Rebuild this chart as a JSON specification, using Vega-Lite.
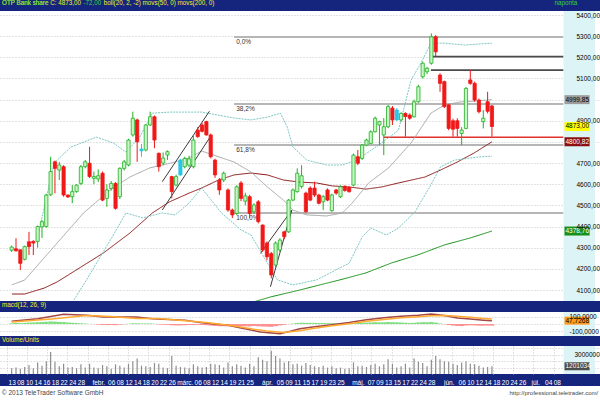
{
"$schema":"https://vega.github.io/schema/vega-lite/v6.json",
"background":"#15247c",
"padding":0,
"spacing":0,
"config":{
 "view":{"stroke":null},
 "font":"Liberation Sans",
 "axis":{"minExtent":0,"gridColor":"#c6c6c6","gridDash":[1,2],"gridWidth":1,"ticks":false,"tickSize":0,"domain":false,"labelOverlap":false,"labelFlush":false},
 "title":{"anchor":"start","fontWeight":"normal","font":"Liberation Sans","fontSize":6.3,"color":"#f2f21e","dx":2,"offset":2.7}
},
"resolve":{"scale":{"x":"independent","y":"independent","color":"independent","fill":"independent","stroke":"independent","strokeWidth":"independent","strokeDash":"independent"}},
"datasets":{
 "cd":[
{"i":2,"o":4288,"h":4310,"l":4280,"c":4303,"t":"u"},
{"i":3,"o":4295,"h":4345,"l":4282,"c":4285,"t":"d"},
{"i":4,"o":4290,"h":4292,"l":4195,"c":4226,"t":"d"},
{"i":5,"o":4245,"h":4310,"l":4240,"c":4305,"t":"u"},
{"i":6,"o":4328,"h":4375,"l":4265,"c":4305,"t":"d"},
{"i":7,"o":4330,"h":4335,"l":4265,"c":4322,"t":"d"},
{"i":8,"o":4330,"h":4405,"l":4300,"c":4400,"t":"u"},
{"i":9,"o":4399,"h":4430,"l":4346,"c":4423,"t":"u"},
{"i":10,"o":4400,"h":4555,"l":4395,"c":4549,"t":"u"},
{"i":11,"o":4550,"h":4730,"l":4545,"c":4660,"t":"u"},
{"i":12,"o":4706,"h":4712,"l":4557,"c":4675,"t":"d"},
{"i":13,"o":4667,"h":4706,"l":4620,"c":4691,"t":"u"},
{"i":14,"o":4683,"h":4690,"l":4541,"c":4549,"t":"d"},
{"i":15,"o":4549,"h":4552,"l":4535,"c":4540,"t":"d"},
{"i":16,"o":4541,"h":4596,"l":4511,"c":4565,"t":"u"},
{"i":17,"o":4565,"h":4600,"l":4560,"c":4596,"t":"u"},
{"i":18,"o":4604,"h":4691,"l":4596,"c":4683,"t":"u"},
{"i":19,"o":4683,"h":4715,"l":4675,"c":4706,"t":"u"},
{"i":20,"o":4699,"h":4777,"l":4630,"c":4636,"t":"d"},
{"i":21,"o":4628,"h":4660,"l":4600,"c":4636,"t":"u"},
{"i":22,"o":4625,"h":4670,"l":4610,"c":4640,"t":"u"},
{"i":23,"o":4652,"h":4660,"l":4520,"c":4525,"t":"d"},
{"i":24,"o":4533,"h":4600,"l":4493,"c":4573,"t":"u"},
{"i":25,"o":4580,"h":4615,"l":4570,"c":4604,"t":"u"},
{"i":26,"o":4604,"h":4610,"l":4480,"c":4486,"t":"d"},
{"i":27,"o":4541,"h":4680,"l":4530,"c":4675,"t":"u"},
{"i":28,"o":4675,"h":4715,"l":4665,"c":4706,"t":"u"},
{"i":29,"o":4691,"h":4815,"l":4685,"c":4809,"t":"u"},
{"i":30,"o":4833,"h":4943,"l":4825,"c":4912,"t":"u"},
{"i":31,"o":4904,"h":4910,"l":4706,"c":4801,"t":"d"},
{"i":32,"o":4758,"h":4790,"l":4730,"c":4766,"t":"f"},
{"i":33,"o":4762,"h":4885,"l":4755,"c":4880,"t":"u"},
{"i":34,"o":4880,"h":4943,"l":4875,"c":4919,"t":"u"},
{"i":35,"o":4919,"h":4925,"l":4770,"c":4809,"t":"d"},
{"i":36,"o":4746,"h":4750,"l":4660,"c":4683,"t":"d"},
{"i":37,"o":4700,"h":4750,"l":4690,"c":4724,"t":"u"},
{"i":38,"o":4738,"h":4760,"l":4715,"c":4754,"t":"u"},
{"i":39,"o":4636,"h":4640,"l":4533,"c":4565,"t":"d"},
{"i":40,"o":4596,"h":4645,"l":4590,"c":4636,"t":"u"},
{"i":41,"o":4644,"h":4720,"l":4640,"c":4714,"t":"f"},
{"i":42,"o":4683,"h":4730,"l":4675,"c":4722,"t":"u"},
{"i":43,"o":4690,"h":4735,"l":4680,"c":4720,"t":"u"},
{"i":44,"o":4683,"h":4830,"l":4675,"c":4809,"t":"u"},
{"i":45,"o":4856,"h":4870,"l":4820,"c":4825,"t":"d"},
{"i":46,"o":4880,"h":4890,"l":4845,"c":4850,"t":"d"},
{"i":47,"o":4896,"h":4900,"l":4830,"c":4833,"t":"d"},
{"i":48,"o":4833,"h":4840,"l":4722,"c":4730,"t":"d"},
{"i":49,"o":4714,"h":4720,"l":4630,"c":4644,"t":"d"},
{"i":50,"o":4620,"h":4630,"l":4550,"c":4573,"t":"d"},
{"i":51,"o":4620,"h":4660,"l":4610,"c":4652,"t":"u"},
{"i":52,"o":4573,"h":4580,"l":4470,"c":4478,"t":"d"},
{"i":53,"o":4478,"h":4485,"l":4440,"c":4455,"t":"d"},
{"i":54,"o":4462,"h":4595,"l":4455,"c":4588,"t":"u"},
{"i":55,"o":4606,"h":4615,"l":4520,"c":4533,"t":"d"},
{"i":56,"o":4520,"h":4560,"l":4500,"c":4545,"t":"u"},
{"i":57,"o":4541,"h":4550,"l":4440,"c":4462,"t":"d"},
{"i":58,"o":4470,"h":4510,"l":4460,"c":4502,"t":"u"},
{"i":59,"o":4517,"h":4525,"l":4415,"c":4423,"t":"d"},
{"i":60,"o":4407,"h":4410,"l":4280,"c":4289,"t":"d"},
{"i":61,"o":4322,"h":4330,"l":4240,"c":4257,"t":"d"},
{"i":62,"o":4272,"h":4280,"l":4155,"c":4171,"t":"d"},
{"i":63,"o":4218,"h":4330,"l":4210,"c":4322,"t":"u"},
{"i":64,"o":4289,"h":4345,"l":4280,"c":4336,"t":"u"},
{"i":65,"o":4375,"h":4380,"l":4340,"c":4352,"t":"d"},
{"i":66,"o":4375,"h":4530,"l":4370,"c":4525,"t":"u"},
{"i":67,"o":4525,"h":4580,"l":4520,"c":4573,"t":"u"},
{"i":68,"o":4565,"h":4675,"l":4560,"c":4652,"t":"u"},
{"i":69,"o":4590,"h":4690,"l":4580,"c":4640,"t":"u"},
{"i":70,"o":4558,"h":4565,"l":4465,"c":4470,"t":"d"},
{"i":71,"o":4582,"h":4590,"l":4520,"c":4525,"t":"d"},
{"i":72,"o":4582,"h":4612,"l":4540,"c":4549,"t":"d"},
{"i":73,"o":4549,"h":4555,"l":4505,"c":4510,"t":"d"},
{"i":74,"o":4517,"h":4549,"l":4478,"c":4541,"t":"u"},
{"i":75,"o":4573,"h":4580,"l":4520,"c":4525,"t":"d"},
{"i":76,"o":4475,"h":4555,"l":4470,"c":4549,"t":"u"},
{"i":77,"o":4573,"h":4578,"l":4550,"c":4558,"t":"d"},
{"i":78,"o":4541,"h":4595,"l":4535,"c":4588,"t":"u"},
{"i":79,"o":4590,"h":4595,"l":4565,"c":4570,"t":"d"},
{"i":80,"o":4585,"h":4590,"l":4560,"c":4565,"t":"d"},
{"i":81,"o":4596,"h":4745,"l":4590,"c":4738,"t":"u"},
{"i":82,"o":4730,"h":4762,"l":4690,"c":4699,"t":"d"},
{"i":83,"o":4722,"h":4790,"l":4715,"c":4785,"t":"u"},
{"i":84,"o":4785,"h":4815,"l":4780,"c":4809,"t":"u"},
{"i":85,"o":4793,"h":4855,"l":4790,"c":4848,"t":"u"},
{"i":86,"o":4848,"h":4920,"l":4845,"c":4912,"t":"u"},
{"i":87,"o":4880,"h":4900,"l":4785,"c":4896,"t":"u"},
{"i":88,"o":4833,"h":4913,"l":4738,"c":4872,"t":"u"},
{"i":89,"o":4872,"h":4975,"l":4865,"c":4967,"t":"u"},
{"i":90,"o":4960,"h":4970,"l":4880,"c":4904,"t":"d"},
{"i":91,"o":4904,"h":4960,"l":4900,"c":4951,"t":"f"},
{"i":92,"o":4904,"h":4940,"l":4895,"c":4935,"t":"u"},
{"i":93,"o":4935,"h":4940,"l":4825,"c":4920,"t":"d"},
{"i":94,"o":4927,"h":4935,"l":4905,"c":4912,"t":"d"},
{"i":95,"o":4919,"h":5000,"l":4915,"c":4990,"t":"u"},
{"i":96,"o":4990,"h":5070,"l":4985,"c":5061,"t":"u"},
{"i":97,"o":5108,"h":5180,"l":5100,"c":5172,"t":"u"},
{"i":98,"o":5132,"h":5155,"l":5120,"c":5148,"t":"u"},
{"i":99,"o":5172,"h":5313,"l":5165,"c":5297,"t":"u"},
{"i":100,"o":5297,"h":5305,"l":5203,"c":5226,"t":"d"},
{"i":101,"o":5116,"h":5125,"l":5037,"c":5077,"t":"d"},
{"i":102,"o":5085,"h":5090,"l":4960,"c":4967,"t":"d"},
{"i":103,"o":4975,"h":4980,"l":4855,"c":4864,"t":"d"},
{"i":104,"o":4900,"h":4910,"l":4825,"c":4860,"t":"d"},
{"i":105,"o":4900,"h":4912,"l":4825,"c":4864,"t":"d"},
{"i":106,"o":4840,"h":4870,"l":4785,"c":4856,"t":"u"},
{"i":107,"o":4864,"h":5060,"l":4860,"c":5053,"t":"u"},
{"i":108,"o":5093,"h":5140,"l":5070,"c":5077,"t":"d"},
{"i":109,"o":5077,"h":5085,"l":4990,"c":4998,"t":"d"},
{"i":110,"o":4998,"h":5005,"l":4935,"c":4943,"t":"d"},
{"i":111,"o":4896,"h":4951,"l":4864,"c":4912,"t":"u"},
{"i":112,"o":4990,"h":5037,"l":4935,"c":4945,"t":"d"},
{"i":113,"o":4970,"h":4975,"l":4825,"c":4873,"t":"d"}
 ],
 "ln":[
{"s":"ma50","i":2.05,"p":4081},{"s":"ma50","i":5,"p":4081},{"s":"ma50","i":9.5,"p":4109},{"s":"ma50","i":12.5,"p":4138},{"s":"ma50","i":23.2,"p":4275},{"s":"ma50","i":29.3,"p":4369},{"s":"ma50","i":34.5,"p":4464},{"s":"ma50","i":38.4,"p":4516},{"s":"ma50","i":43,"p":4558},{"s":"ma50","i":45.9,"p":4582},{"s":"ma50","i":49.8,"p":4620},{"s":"ma50","i":53.4,"p":4644},{"s":"ma50","i":57.3,"p":4653},{"s":"ma50","i":61.1,"p":4644},{"s":"ma50","i":64.8,"p":4620},{"s":"ma50","i":68.6,"p":4610},{"s":"ma50","i":72.5,"p":4606},{"s":"ma50","i":76.1,"p":4592},{"s":"ma50","i":80,"p":4587},{"s":"ma50","i":83.9,"p":4577},{"s":"ma50","i":87.5,"p":4587},{"s":"ma50","i":91.4,"p":4606},{"s":"ma50","i":97.5,"p":4634},{"s":"ma50","i":101.1,"p":4667},{"s":"ma50","i":105,"p":4705},{"s":"ma50","i":108.9,"p":4748},{"s":"ma50","i":113,"p":4800.82},
{"s":"ma200","i":57.3,"p":4040},{"s":"ma200","i":61.8,"p":4067},{"s":"ma200","i":68.6,"p":4100},{"s":"ma200","i":73.2,"p":4124},{"s":"ma200","i":77.7,"p":4147},{"s":"ma200","i":83.9,"p":4181},{"s":"ma200","i":89.8,"p":4228},{"s":"ma200","i":95.9,"p":4266},{"s":"ma200","i":102,"p":4313},{"s":"ma200","i":108,"p":4346},{"s":"ma200","i":113,"p":4378.76},
{"s":"mid","i":2,"p":4124},{"s":"mid","i":5,"p":4147},{"s":"mid","i":18.6,"p":4464},{"s":"mid","i":24.8,"p":4573},{"s":"mid","i":29.3,"p":4634},{"s":"mid","i":33.9,"p":4677},{"s":"mid","i":39.8,"p":4705},{"s":"mid","i":43,"p":4724},{"s":"mid","i":45.9,"p":4757},{"s":"mid","i":53.4,"p":4705},{"s":"mid","i":57.3,"p":4658},{"s":"mid","i":61.1,"p":4587},{"s":"mid","i":64.8,"p":4525},{"s":"mid","i":67,"p":4478},{"s":"mid","i":70.2,"p":4455},{"s":"mid","i":74.8,"p":4450},{"s":"mid","i":78.4,"p":4464},{"s":"mid","i":80.7,"p":4511},{"s":"mid","i":84.5,"p":4606},{"s":"mid","i":89.1,"p":4677},{"s":"mid","i":94.3,"p":4795},{"s":"mid","i":98.9,"p":4936},{"s":"mid","i":102,"p":4974},{"s":"mid","i":105.7,"p":4989},{"s":"mid","i":108.9,"p":4993},{"s":"mid","i":113,"p":4999.85},
{"s":"up","i":8,"p":4351},{"s":"up","i":11.8,"p":4700},{"s":"up","i":15.7,"p":4776},{"s":"up","i":21.6,"p":4823},{"s":"up","i":25.5,"p":4795},{"s":"up","i":28.4,"p":4752},{"s":"up","i":31.6,"p":4823},{"s":"up","i":34.5,"p":4936},{"s":"up","i":38.4,"p":4941},{"s":"up","i":45.9,"p":4941},{"s":"up","i":53.4,"p":4913},{"s":"up","i":57.3,"p":4904},{"s":"up","i":61.1,"p":4917},{"s":"up","i":64.1,"p":4936},{"s":"up","i":65.7,"p":4870},{"s":"up","i":67,"p":4776},{"s":"up","i":70.2,"p":4714},{"s":"up","i":74.8,"p":4691},{"s":"up","i":78.4,"p":4691},{"s":"up","i":81.6,"p":4714},{"s":"up","i":85.2,"p":4762},{"s":"up","i":88.4,"p":4809},{"s":"up","i":91.4,"p":4856},{"s":"up","i":94.3,"p":5092},{"s":"up","i":96.6,"p":5173},{"s":"up","i":98.9,"p":5267},{"s":"up","i":102,"p":5267},{"s":"up","i":106.6,"p":5258},{"s":"up","i":113,"p":5267},
{"s":"lo","i":16.4,"p":4053},{"s":"lo","i":19.3,"p":4148},{"s":"lo","i":25.5,"p":4360},{"s":"lo","i":28.4,"p":4464},{"s":"lo","i":32.3,"p":4441},{"s":"lo","i":36.8,"p":4464},{"s":"lo","i":39.8,"p":4455},{"s":"lo","i":43,"p":4511},{"s":"lo","i":45.9,"p":4582},{"s":"lo","i":50.5,"p":4464},{"s":"lo","i":55,"p":4384},{"s":"lo","i":57.3,"p":4360},{"s":"lo","i":63.4,"p":4148},{"s":"lo","i":67,"p":4124},{"s":"lo","i":72.5,"p":4148},{"s":"lo","i":80,"p":4227},{"s":"lo","i":83,"p":4350},{"s":"lo","i":85,"p":4393},{"s":"lo","i":88.6,"p":4360},{"s":"lo","i":91.4,"p":4393},{"s":"lo","i":95.2,"p":4469},{"s":"lo","i":98.9,"p":4597},{"s":"lo","i":101.1,"p":4682},{"s":"lo","i":104.3,"p":4714},{"s":"lo","i":109.5,"p":4728},{"s":"lo","i":113,"p":4733}
 ],
 "hl":[
{"x1":53.4,"x2":129.55,"p":5296,"k":"fib"},{"x1":53.4,"x2":129.55,"p":4979,"k":"fib"},{"x1":53.4,"x2":129.55,"p":4785,"k":"fib"},{"x1":53.4,"x2":129.55,"p":4464,"k":"fib"},
{"x1":98.9,"x2":129.55,"p":5203,"k":"res"},{"x1":98.9,"x2":129.55,"p":5140,"k":"res"},{"x1":88,"x2":129.55,"p":4822,"k":"red"}
 ],
 "fl":[{"x":53.9,"p":5296,"t":"0,0%"},{"x":53.9,"p":4979,"t":"38,2%"},{"x":53.9,"p":4785,"t":"61,8%"},{"x":53.9,"p":4464,"t":"100,0%"}],
 "tl":[{"i1":36.8,"p1":4612,"i2":47.7,"p2":4945},{"i1":36.8,"p1":4478,"i2":47.7,"p2":4818},{"i1":59.5,"p1":4273,"i2":66.75,"p2":4478},{"i1":61.8,"p1":4115,"i2":66.75,"p2":4478}],
 "tg":[{"v":4999.85,"label":"4999,85","k":"boll"},{"v":4873,"label":"4873,00","k":"close"},{"v":4800.82,"label":"4800,82","k":"ma50"},{"v":4378.76,"label":"4378,76","k":"ma200"}],
 "md":[
{"s":"macd","i":2,"v":38},{"s":"macd","i":8,"v":76},{"s":"macd","i":14,"v":138},{"s":"macd","i":19.4,"v":124},{"s":"macd","i":23.2,"v":100},{"s":"macd","i":30.8,"v":100},{"s":"macd","i":34.5,"v":76},{"s":"macd","i":42.1,"v":53},{"s":"macd","i":45.9,"v":19},{"s":"macd","i":52,"v":-19},{"s":"macd","i":55,"v":-57},{"s":"macd","i":59.5,"v":-114},{"s":"macd","i":64,"v":-139},{"s":"macd","i":66.4,"v":-104},{"s":"macd","i":68.6,"v":-67},{"s":"macd","i":72,"v":-40},{"s":"macd","i":76,"v":-10},{"s":"macd","i":80,"v":20},{"s":"macd","i":84,"v":60},{"s":"macd","i":88,"v":90},{"s":"macd","i":92,"v":110},{"s":"macd","i":96,"v":125},{"s":"macd","i":99,"v":143},{"s":"macd","i":102,"v":120},{"s":"macd","i":105,"v":85},{"s":"macd","i":108,"v":70},{"s":"macd","i":111,"v":55},{"s":"macd","i":113,"v":47.7268},
{"s":"sig","i":2,"v":29},{"s":"sig","i":11.8,"v":76},{"s":"sig","i":19.4,"v":120},{"s":"sig","i":25,"v":108},{"s":"sig","i":30.8,"v":80},{"s":"sig","i":36,"v":78},{"s":"sig","i":42.1,"v":45},{"s":"sig","i":47,"v":20},{"s":"sig","i":53.5,"v":-30},{"s":"sig","i":58,"v":-75},{"s":"sig","i":61,"v":-100},{"s":"sig","i":64.8,"v":-120},{"s":"sig","i":68.6,"v":-95},{"s":"sig","i":72,"v":-62},{"s":"sig","i":76,"v":-25},{"s":"sig","i":80,"v":5},{"s":"sig","i":84,"v":38},{"s":"sig","i":88,"v":65},{"s":"sig","i":92,"v":88},{"s":"sig","i":96,"v":105},{"s":"sig","i":99,"v":118},{"s":"sig","i":102,"v":122},{"s":"sig","i":105,"v":110},{"s":"sig","i":108,"v":95},{"s":"sig","i":111,"v":80},{"s":"sig","i":113,"v":71}
 ],
 "mh":[
{"i":2,"h":10},{"i":3,"h":14},{"i":4,"h":12},{"i":5,"h":16},{"i":6,"h":20},{"i":7,"h":22},{"i":8,"h":26},{"i":9,"h":28},{"i":10,"h":32},{"i":11,"h":36},{"i":12,"h":34},{"i":13,"h":30},{"i":14,"h":28},{"i":15,"h":22},{"i":16,"h":18},{"i":17,"h":14},{"i":18,"h":10},{"i":19,"h":6},{"i":20,"h":2},{"i":21,"h":-2},{"i":22,"h":-8},{"i":23,"h":-14},{"i":24,"h":-16},{"i":25,"h":-14},{"i":26,"h":-16},{"i":27,"h":-10},{"i":28,"h":-4},{"i":29,"h":4},{"i":30,"h":10},{"i":31,"h":10},{"i":32,"h":8},{"i":33,"h":8},{"i":34,"h":8},{"i":35,"h":4},{"i":36,"h":-6},{"i":37,"h":-10},{"i":38,"h":-12},{"i":39,"h":-18},{"i":40,"h":-20},{"i":41,"h":-20},{"i":42,"h":-18},{"i":43,"h":-14},{"i":44,"h":-12},{"i":45,"h":-12},{"i":46,"h":-14},{"i":47,"h":-18},{"i":48,"h":-22},{"i":49,"h":-28},{"i":50,"h":-32},{"i":51,"h":-30},{"i":52,"h":-34},{"i":53,"h":-36},{"i":54,"h":-32},{"i":55,"h":-34},{"i":56,"h":-32},{"i":57,"h":-34},{"i":58,"h":-30},{"i":59,"h":-32},{"i":60,"h":-36},{"i":61,"h":-38},{"i":62,"h":-40},{"i":63,"h":-30},{"i":64,"h":-20},{"i":65,"h":-12},{"i":66,"h":-2},{"i":67,"h":6},{"i":68,"h":14},{"i":69,"h":18},{"i":70,"h":16},{"i":71,"h":16},{"i":72,"h":16},{"i":73,"h":14},{"i":74,"h":14},{"i":75,"h":12},{"i":76,"h":12},{"i":77,"h":10},{"i":78,"h":10},{"i":79,"h":8},{"i":80,"h":8},{"i":81,"h":14},{"i":82,"h":14},{"i":83,"h":18},{"i":84,"h":20},{"i":85,"h":22},{"i":86,"h":26},{"i":87,"h":24},{"i":88,"h":24},{"i":89,"h":28},{"i":90,"h":26},{"i":91,"h":24},{"i":92,"h":22},{"i":93,"h":18},{"i":94,"h":14},{"i":95,"h":18},{"i":96,"h":22},{"i":97,"h":26},{"i":98,"h":24},{"i":99,"h":28},{"i":100,"h":20},{"i":101,"h":8},{"i":102,"h":-4},{"i":103,"h":-14},{"i":104,"h":-22},{"i":105,"h":-28},{"i":106,"h":-30},{"i":107,"h":-22},{"i":108,"h":-18},{"i":109,"h":-20},{"i":110,"h":-24},{"i":111,"h":-24},{"i":112,"h":-22},{"i":113,"h":-24}
 ],
 "vo":[
{"i":2,"v":900000},{"i":3,"v":1000000},{"i":4,"v":800000},{"i":5,"v":1100000},{"i":6,"v":1400000},{"i":7,"v":900000},{"i":8,"v":1800000},{"i":9,"v":1300000},{"i":10,"v":2000000},{"i":11,"v":3400000},{"i":12,"v":1900000},{"i":13,"v":1200000},{"i":14,"v":1600000},{"i":15,"v":1000000},{"i":16,"v":1100000},{"i":17,"v":900000},{"i":18,"v":1500000},{"i":19,"v":1000000},{"i":20,"v":1600000},{"i":21,"v":1000000},{"i":22,"v":900000},{"i":23,"v":1400000},{"i":24,"v":1200000},{"i":25,"v":800000},{"i":26,"v":1500000},{"i":27,"v":1300000},{"i":28,"v":1000000},{"i":29,"v":1600000},{"i":30,"v":2000000},{"i":31,"v":2400000},{"i":32,"v":1300000},{"i":33,"v":1200000},{"i":34,"v":1100000},{"i":35,"v":1700000},{"i":36,"v":1600000},{"i":37,"v":1000000},{"i":38,"v":900000},{"i":39,"v":2800000},{"i":40,"v":1300000},{"i":41,"v":1100000},{"i":42,"v":1000000},{"i":43,"v":900000},{"i":44,"v":1500000},{"i":45,"v":1200000},{"i":46,"v":1000000},{"i":47,"v":1100000},{"i":48,"v":1600000},{"i":49,"v":1500000},{"i":50,"v":1400000},{"i":51,"v":1000000},{"i":52,"v":1800000},{"i":53,"v":1200000},{"i":54,"v":1500000},{"i":55,"v":1300000},{"i":56,"v":1000000},{"i":57,"v":1600000},{"i":58,"v":1200000},{"i":59,"v":2600000},{"i":60,"v":2200000},{"i":61,"v":2000000},{"i":62,"v":3600000},{"i":63,"v":2800000},{"i":64,"v":2400000},{"i":65,"v":1800000},{"i":66,"v":2000000},{"i":67,"v":1500000},{"i":68,"v":1600000},{"i":69,"v":1300000},{"i":70,"v":1700000},{"i":71,"v":1400000},{"i":72,"v":1200000},{"i":73,"v":1100000},{"i":74,"v":1300000},{"i":75,"v":1000000},{"i":76,"v":1200000},{"i":77,"v":900000},{"i":78,"v":1000000},{"i":79,"v":800000},{"i":80,"v":900000},{"i":81,"v":1800000},{"i":82,"v":1200000},{"i":83,"v":1300000},{"i":84,"v":1100000},{"i":85,"v":1400000},{"i":86,"v":1600000},{"i":87,"v":1200000},{"i":88,"v":1500000},{"i":89,"v":2300000},{"i":90,"v":1600000},{"i":91,"v":1000000},{"i":92,"v":1200000},{"i":93,"v":1600000},{"i":94,"v":1000000},{"i":95,"v":2400000},{"i":96,"v":1900000},{"i":97,"v":1700000},{"i":98,"v":1200000},{"i":99,"v":2200000},{"i":100,"v":2800000},{"i":101,"v":2300000},{"i":102,"v":2000000},{"i":103,"v":1900000},{"i":104,"v":1600000},{"i":105,"v":1400000},{"i":106,"v":1800000},{"i":107,"v":2000000},{"i":108,"v":1600000},{"i":109,"v":1500000},{"i":110,"v":1300000},{"i":111,"v":1000000},{"i":112,"v":1100000},{"i":113,"v":1201034}
 ]
},
"vconcat":[
{
 "width":600,"height":290,
 "view":{"fill":"#ffffff"},
 "title":{"text":"OTP Bank share C: 4873,00 \u00a0\u00a0\u00a0\u00a0\u00a0\u00a0\u00a0\u00a0\u00a0\u00a0\u00a0\u00a0boll(20, 2, -2) movs(50, 0) movs(200, 0)","subtitle":"OTP Bank share\u00a0\u00a0\u00a0\u00a0\u00a0\u00a0\u00a0\u00a0\u00a0\u00a0\u00a0\u00a0\u00a0\u00a0\u00a0\u00a0\u00a0\u00a0\u00a0\u00a0-72,00\u00a0\u00a0\u00a0\u00a0\u00a0\u00a0\u00a0\u00a0\u00a0\u00a0\u00a0\u00a0\u00a0\u00a0\u00a0\u00a0\u00a0\u00a0\u00a0\u00a0\u00a0\u00a0\u00a0\u00a0\u00a0\u00a0\u00a0\u00a0\u00a0\u00a0\u00a0\u00a0\u00a0\u00a0\u00a0\u00a0\u00a0\u00a0\u00a0\u00a0\u00a0\u00a0\u00a0\u00a0\u00a0\u00a0\u00a0\u00a0\u00a0\u00a0\u00a0\u00a0\u00a0\u00a0\u00a0\u00a0\u00a0\u00a0\u00a0\u00a0\u00a0\u00a0\u00a0\u00a0\u00a0\u00a0\u00a0\u00a0\u00a0\u00a0\u00a0\u00a0\u00a0\u00a0\u00a0\u00a0\u00a0\u00a0\u00a0\u00a0\u00a0\u00a0\u00a0\u00a0\u00a0\u00a0\u00a0\u00a0\u00a0\u00a0\u00a0\u00a0\u00a0\u00a0\u00a0\u00a0\u00a0\u00a0\u00a0\u00a0\u00a0\u00a0\u00a0\u00a0\u00a0\u00a0\u00a0\u00a0\u00a0\u00a0\u00a0\u00a0\u00a0\u00a0\u00a0\u00a0\u00a0\u00a0\u00a0\u00a0\u00a0\u00a0\u00a0\u00a0\u00a0\u00a0\u00a0\u00a0\u00a0\u00a0\u00a0\u00a0\u00a0\u00a0\u00a0\u00a0\u00a0\u00a0\u00a0\u00a0\u00a0\u00a0\u00a0\u00a0\u00a0\u00a0\u00a0\u00a0\u00a0\u00a0\u00a0\u00a0\u00a0\u00a0\u00a0\u00a0\u00a0\u00a0\u00a0\u00a0\u00a0\u00a0\u00a0\u00a0\u00a0\u00a0\u00a0\u00a0\u00a0\u00a0\u00a0\u00a0\u00a0\u00a0\u00a0\u00a0\u00a0\u00a0\u00a0\u00a0\u00a0\u00a0\u00a0\u00a0\u00a0\u00a0\u00a0\u00a0\u00a0\u00a0\u00a0\u00a0\u00a0\u00a0\u00a0\u00a0\u00a0\u00a0\u00a0\u00a0\u00a0\u00a0\u00a0\u00a0\u00a0\u00a0\u00a0\u00a0\u00a0\u00a0\u00a0\u00a0\u00a0\u00a0\u00a0\u00a0\u00a0\u00a0\u00a0\u00a0\u00a0\u00a0\u00a0\u00a0\u00a0\u00a0\u00a0\u00a0\u00a0\u00a0\u00a0\u00a0\u00a0\u00a0\u00a0\u00a0\u00a0\u00a0\u00a0\u00a0\u00a0\u00a0\u00a0\u00a0\u00a0\u00a0\u00a0\u00a0\u00a0\u00a0\u00a0\u00a0\u00a0\u00a0\u00a0\u00a0\u00a0\u00a0\u00a0naponta","color":"#f2f21e","subtitleColor":"#3cd23c","subtitleFont":"Liberation Sans","subtitleFontSize":6.3,"subtitlePadding":-6.3,"offset":4.7},
 "resolve":{"scale":{"color":"independent","fill":"independent","stroke":"independent","strokeWidth":"independent","strokeDash":"independent"},"axis":{"y":"independent"}},
 "layer":[
  {"data":{"name":"hl"},"mark":{"type":"rule"},
   "encoding":{
    "x":{"field":"x1","type":"quantitative","scale":{"domain":[0.4545,136.82],"nice":false,"zero":false},"axis":{"orient":"bottom","grid":true,"labels":false,"title":null,"values":[0.84,5.52,10.2,14.89,19.57,24.25,28.93,33.61,38.3,42.98,47.66,52.34,57.02,61.71,66.39,71.07,75.75,80.43,85.12,89.8,94.48,99.16,103.84,108.53,113.21,117.89,122.57,127.25]}},
    "x2":{"field":"x2"},
    "y":{"field":"p","type":"quantitative","scale":{"domain":[4048,5419],"nice":false,"zero":false},"axis":{"orient":"left","grid":true,"labels":false,"title":null,"values":[4100,4200,4300,4400,4500,4600,4700,4800,4900,5000,5100,5200,5300,5400]}},
    "color":{"field":"k","type":"nominal","scale":{"domain":["fib","res","red"],"range":["#b6b6b6","#4a4a4a","#e03030"]},"legend":null},
    "strokeWidth":{"field":"k","type":"ordinal","scale":{"domain":["fib","res","red"],"range":[2,1.5,1]},"legend":null}
   }},
  {"data":{"name":"fl"},"mark":{"type":"text","align":"left","baseline":"top","dy":2,"fontSize":6.5,"color":"#333333"},
   "encoding":{"x":{"field":"x","type":"quantitative","axis":null},"y":{"field":"p","type":"quantitative","axis":null},"text":{"field":"t"}}},
  {"data":{"name":"ln"},"mark":{"type":"line","clip":true},
   "encoding":{
    "x":{"field":"i","type":"quantitative","axis":null},
    "y":{"field":"p","type":"quantitative","axis":null},
    "color":{"field":"s","type":"nominal","scale":{"domain":["up","lo","mid","ma50","ma200"],"range":["#7cc6c6","#7cc6c6","#a6a6a6","#8a1414","#139013"]},"legend":null},
    "strokeDash":{"field":"s","type":"nominal","scale":{"domain":["up","lo","mid","ma50","ma200"],"range":[[2,1],[2,1],[1,0],[1,0],[1,0]]},"legend":null},
    "strokeWidth":{"field":"s","type":"ordinal","scale":{"domain":["up","lo","mid","ma50","ma200"],"range":[1,1,1,2,2]},"legend":null}
   }},
  {"data":{"name":"tl"},"mark":{"type":"rule","color":"#3c3c3c","strokeWidth":1},
   "encoding":{"x":{"field":"i1","type":"quantitative","axis":null},"x2":{"field":"i2"},"y":{"field":"p1","type":"quantitative","axis":null},"y2":{"field":"p2"}}},
  {"data":{"name":"cd"},"mark":{"type":"rule","strokeWidth":1},
   "encoding":{"x":{"field":"i","type":"quantitative","axis":null},"y":{"field":"l","type":"quantitative","axis":null},"y2":{"field":"h"},
    "stroke":{"field":"t","type":"nominal","scale":{"domain":["u","d","f"],"range":["#22b022","#f01818","#26c6e6"]},"legend":null}}},
  {"data":{"name":"cd"},"mark":{"type":"bar","width":3.2,"strokeWidth":0.8},
   "encoding":{"x":{"field":"i","type":"quantitative","axis":null},"y":{"field":"o","type":"quantitative","axis":null},"y2":{"field":"c"},
    "fill":{"field":"t","type":"nominal","scale":{"domain":["u","d","f"],"range":["#c8f6c8","#f01818","#26c6e6"]},"legend":null},
    "stroke":{"field":"t","type":"nominal","scale":{"domain":["u","d","f"],"range":["#22b022","#f01818","#26c6e6"]},"legend":null}}},
  {"data":{"values":[{}]},"mark":{"type":"rect","fill":"#ddf4f7"},
   "encoding":{"x":{"datum":129.55,"type":"quantitative","axis":null},"x2":{"datum":136.82}}},
  {"data":{"name":"tg"},"mark":{"type":"rect","yOffset":-4.5,"y2Offset":4.5,"zindex":2},
   "encoding":{"x":{"datum":129.77,"type":"quantitative","axis":null},"x2":{"datum":135.57},
    "y":{"field":"v","type":"quantitative","axis":{"orient":"right","grid":false,"title":null,"labelPadding":-24,"labelAlign":"left","labelBaseline":"middle","labelFontSize":6.5,"labelFont":"Liberation Sans","labelColor":"#000000","zindex":1,"values":[4100,4200,4300,4400,4500,4600,4700,4900,5100,5200,5300,5400],"labelExpr":"datum.value + ',00'"}},
    "y2":{"field":"v"},
    "fill":{"field":"k","type":"nominal","scale":{"domain":["boll","close","ma50","ma200"],"range":["#9c9c9c","#ffff00","#8b1010","#18901a"]},"legend":null}}},
  {"data":{"name":"tg"},"mark":{"type":"text","align":"left","baseline":"middle","dx":1,"fontSize":6.5,"font":"Liberation Sans","zindex":2},
   "encoding":{"x":{"datum":129.77,"type":"quantitative","axis":null},"y":{"field":"v","type":"quantitative","axis":null},"text":{"field":"label"},
    "fill":{"field":"k","type":"nominal","scale":{"domain":["boll","close","ma50","ma200"],"range":["#000000","#000000","#ffffff","#ffffff"]},"legend":null}}}
 ]
},
{
 "width":600,"height":24,
 "view":{"fill":"#ffffff"},
 "title":{"text":"macd(12, 26, 9)"},
 "resolve":{"scale":{"color":"independent"},"axis":{"y":"independent"}},
 "layer":[
  {"data":{"name":"mh"},"mark":{"type":"bar","width":4.5},
   "encoding":{
    "x":{"field":"i","type":"quantitative","scale":{"domain":[0.4545,136.82],"nice":false,"zero":false},"axis":{"orient":"bottom","grid":true,"labels":false,"title":null,"values":[0.84,5.52,10.2,14.89,19.57,24.25,28.93,33.61,38.3,42.98,47.66,52.34,57.02,61.71,66.39,71.07,75.75,80.43,85.12,89.8,94.48,99.16,103.84,108.53,113.21,117.89,122.57,127.25]}},
    "y":{"field":"h","type":"quantitative","scale":{"domain":[-171,171],"nice":false},"axis":{"orient":"left","grid":true,"labels":false,"title":null,"values":[-100,0,100]}},
    "color":{"condition":{"test":"datum.h < 0","value":"#ff9090"},"value":"#80e080"}
   }},
  {"data":{"name":"md"},"mark":{"type":"line","strokeWidth":1.5},
   "encoding":{"x":{"field":"i","type":"quantitative","axis":null},"y":{"field":"v","type":"quantitative","axis":null},
    "color":{"field":"s","type":"nominal","scale":{"domain":["macd","sig"],"range":["#a34848","#ffaa30"]},"legend":null}}},
  {"data":{"values":[{}]},"mark":{"type":"rect","fill":"#ddf4f7"},
   "encoding":{"x":{"datum":129.55,"type":"quantitative","axis":null},"x2":{"datum":136.82}}},
  {"data":{"values":[{"v":47.7268}]},"mark":{"type":"rect","yOffset":-4,"y2Offset":4,"fill":"#ff9a1a","zindex":2},
   "encoding":{"x":{"datum":129.77,"type":"quantitative","axis":null},"x2":{"datum":135.57},
    "y":{"field":"v","type":"quantitative","axis":{"orient":"right","grid":false,"title":null,"labelPadding":-31,"labelAlign":"left","labelBaseline":"middle","labelFontSize":6.5,"labelFont":"Liberation Sans","labelColor":"#000000","zindex":1,"values":[100,-100],"labelExpr":"datum.value + ',0000'"}},
    "y2":{"field":"v"}}},
  {"data":{"values":[{"v":47.7268,"label":"47,7268"}]},"mark":{"type":"text","align":"left","baseline":"middle","dx":1,"fontSize":6.5,"font":"Liberation Sans","color":"#000000","zindex":2},
   "encoding":{"x":{"datum":129.77,"type":"quantitative","axis":null},"y":{"field":"v","type":"quantitative","axis":null},"text":{"field":"label"}}}
 ]
},
{
 "width":600,"height":28,
 "view":{"fill":"#ffffff"},
 "title":{"text":"Volume/Units"},
 "resolve":{"axis":{"x":"independent","y":"independent"}},
 "layer":[
  {"data":{"name":"vo"},"mark":{"type":"bar","width":1.2,"color":"#8e8e8e"},
   "encoding":{
    "x":{"field":"i","type":"quantitative","scale":{"domain":[0.4545,136.82],"nice":false,"zero":false},"axis":{"orient":"top","grid":true,"labels":false,"title":null,"values":[0.84,5.52,10.2,14.89,19.57,24.25,28.93,33.61,38.3,42.98,47.66,52.34,57.02,61.71,66.39,71.07,75.75,80.43,85.12,89.8,94.48,99.16,103.84,108.53,113.21,117.89,122.57,127.25]}},
    "y":{"field":"v","type":"quantitative","scale":{"domain":[0,4350000],"nice":false},"axis":{"orient":"left","grid":true,"labels":false,"title":null,"values":[1000000,2000000,3000000,4000000]}}
   }},
  {"data":{"values":[{}]},"mark":{"type":"rect","fill":"#ddf4f7"},
   "encoding":{"x":{"datum":129.55,"type":"quantitative","axis":null},"x2":{"datum":136.82}}},
  {"data":{"values":[{"v":1201034}]},"mark":{"type":"rect","yOffset":-4,"y2Offset":4,"fill":"#4c4c4c","zindex":2},
   "encoding":{"x":{"datum":129.77,"type":"quantitative","axis":{"orient":"bottom","grid":false,"title":null,"labelColor":"#ffffff","labelFontSize":6.5,"labelFont":"Liberation Sans","labelPadding":5,"values":[2,4,6,8,10,12,14,16,18,22,25,27,29,31,33,35,37,39,42,45,47,49,51,53,55,57,61,64,66,68,70,72,74,76,78,82,85,87,89,91,93,95,97,99,103,106,108,110,112,114,116,118,120,123,126,128],"labelExpr":"['13','08','10','14','16','18','22','24','28','febr.','06','08','12','14','18','20','22','26','márc.','06','08','12','14','19','21','25','ápr.','05','09','11','15','17','19','23','25','máj.','07','09','13','15','17','22','24','28','jún.','06','10','12','14','18','20','24','26','júl.','04','08'][indexof([2,4,6,8,10,12,14,16,18,22,25,27,29,31,33,35,37,39,42,45,47,49,51,53,55,57,61,64,66,68,70,72,74,76,78,82,85,87,89,91,93,95,97,99,103,106,108,110,112,114,116,118,120,123,126,128], datum.value)]"}},
    "x2":{"datum":135.57},
    "y":{"field":"v","type":"quantitative","axis":{"orient":"right","grid":false,"title":null,"labelPadding":-26,"labelAlign":"left","labelBaseline":"middle","labelFontSize":6.5,"labelFont":"Liberation Sans","labelColor":"#000000","zindex":1,"values":[3000000],"labelExpr":"datum.value + ''"}},
    "y2":{"field":"v"}}},
  {"data":{"values":[{"v":1201034,"label":"1201034"}]},"mark":{"type":"text","align":"left","baseline":"middle","dx":1,"fontSize":6.5,"font":"Liberation Sans","color":"#ffffff","zindex":2},
   "encoding":{"x":{"datum":129.77,"type":"quantitative","axis":null},"y":{"field":"v","type":"quantitative","axis":null},"text":{"field":"label"}}}
 ]
},
{
 "width":600,"height":13,
 "view":{"fill":"#ffffff"},
 "layer":[
  {"data":{"values":[{"t":"© 2013 TeleTrader Software GmbH"}]},"mark":{"type":"text","align":"left","baseline":"middle","fontSize":6.5,"color":"#444444"},
   "encoding":{"x":{"datum":0.003,"type":"quantitative","scale":{"domain":[0,1]},"axis":null},"text":{"field":"t"}}},
  {"data":{"values":[{"t":"http://professional.teletrader.com/"}]},"mark":{"type":"text","align":"right","baseline":"middle","fontSize":6,"color":"#444444"},
   "encoding":{"x":{"datum":0.997,"type":"quantitative","axis":null},"text":{"field":"t"}}}
 ]
}
]
}
